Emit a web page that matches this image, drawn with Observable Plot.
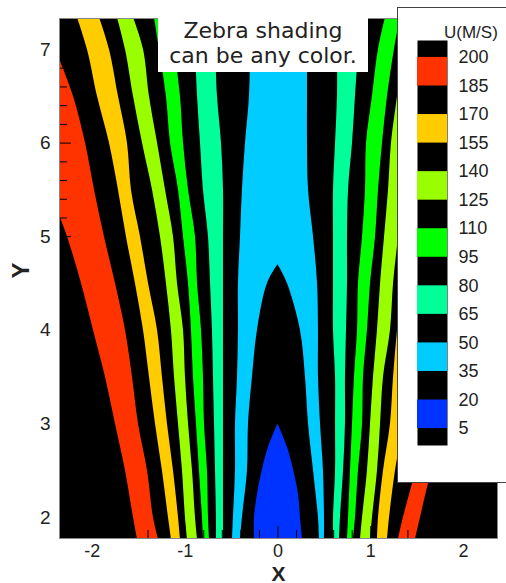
<!DOCTYPE html>
<html>
<head>
<meta charset="utf-8">
<script src="https://cdn.jsdelivr.net/npm/d3@7"></script>
<script src="https://cdn.jsdelivr.net/npm/@observablehq/plot@0.6"></script>
<style>
  html, body { margin: 0; padding: 0; background: #fff; }
  #wrap { position: relative; width: 506px; height: 583px; overflow: hidden; background: #fff; }
  #chart { position: absolute; left: 0; top: 0; }
  #note { position: absolute; left: 158px; top: 8px; width: 210px; height: 64px; background: #fff;
          font-family: "DejaVu Sans", sans-serif; font-size: 22px; line-height: 25px; color: #222;
          text-align: center; padding-top: 10px; box-sizing: border-box; white-space: nowrap; }
  #legend { position: absolute; left: 397px; top: 7px; width: 130px; height: 474px;
            border: 1px solid #444; background: #fff; }
  #legend .title { position: absolute; left: 46px; top: 16px; font-family: "Liberation Sans", Arial, sans-serif;
            font-size: 17px; line-height: 17px; color: #222; white-space: nowrap; }
  #legend .bar { position: absolute; left: 0; top: 0; }
</style>
</head>
<body>
<div id="wrap">
  <div id="chart"></div>
  <div id="note">Zebra shading<br>can be any color.</div>
  <div id="legend"><div class="bar" id="legendbar"></div><span class="title">U(M/S)</span></div>
</div>
<script>
// ---- contour levels and zebra band colours (legend) ----
const levels = [5, 20, 35, 50, 65, 80, 95, 110, 125, 140, 155, 170, 185, 200];
const bandColors = ["#0033ff", "#00ccff", "#00ff99", "#00ff00", "#99ff00", "#ffcc00", "#ff3300"];

// ---- axis ticks ----
const xMajor = [-2, -1, 0, 1, 2];
const yMajor = [2, 3, 4, 5, 6, 7];
const xMinor = [-2.2, -1.8, -1.6, -1.4, -1.2, -0.8, -0.6, -0.4, -0.2, 0.2, 0.4, 0.6, 0.8, 1.2, 1.4, 1.6, 1.8, 2.2];
const yMinor = [1.8, 2.2, 2.4, 2.6, 2.8, 3.2, 3.4, 3.6, 3.8, 4.2, 4.4, 4.6, 4.8, 5.2, 5.4, 5.6, 5.8, 6.2, 6.4, 6.6, 6.8, 7.2];

// ---- coloured band edges: [Y, X left edge, X right edge] ----
// 185-200 (red), left side
const redLeft = [[1.77,-1.514,-1.288],[2,-1.557,-1.342],[2.5,-1.643,-1.406],[3,-1.751,-1.503],[3.5,-1.859,-1.568],
  [4,-1.988,-1.643],[4.5,-2.117,-1.751],[5,-2.268,-1.870],[5.5,-2.45,-1.977],[6,-2.55,-2.074],[6.5,-2.65,-2.204],[6.9,-2.75,-2.355]];
// 155-170 (orange), left side
const orangeLeft = [[1.77,-1.148,-1.051],[2,-1.180,-1.072],[2.5,-1.245,-1.126],[3,-1.320,-1.191],[3.5,-1.385,-1.245],
  [4,-1.449,-1.298],[4.5,-1.536,-1.395],[5,-1.633,-1.482],[5.5,-1.719,-1.579],[6,-1.816,-1.622],[6.5,-1.945,-1.719],[7,-2.053,-1.816],[7.34,-2.161,-1.923]];
// 125-140 (yellow-green), left side
const ygreenLeft = [[1.77,-0.975,-0.867],[2,-0.997,-0.889],[2.5,-1.029,-0.921],[3,-1.072,-0.964],[3.5,-1.115,-0.997],
  [4,-1.148,-1.018],[4.5,-1.202,-1.083],[5,-1.266,-1.126],[5.5,-1.352,-1.212],[6,-1.460,-1.298],[6.5,-1.557,-1.385],[7,-1.643,-1.449],[7.34,-1.730,-1.557]];
// 95-110 (green), left side
const greenLeft = [[1.77,-0.803,-0.738],[2,-0.814,-0.749],[2.5,-0.846,-0.760],[3,-0.878,-0.792],[3.5,-0.911,-0.803],
  [4,-0.932,-0.824],[4.5,-0.964,-0.867],[5,-1.018,-0.889],[5.5,-1.072,-0.964],[6,-1.158,-1.018],[6.5,-1.202,-1.051],[7,-1.277,-1.115],[7.34,-1.331,-1.180]];
// 65-80 (teal), left side
const tealLeft = [[1.77,-0.663,-0.587],[2,-0.663,-0.587],[2.5,-0.673,-0.587],[3,-0.684,-0.587],[3.5,-0.695,-0.587],
  [4,-0.706,-0.587],[4.5,-0.727,-0.587],[5,-0.749,-0.587],[5.5,-0.803,-0.587],[6,-0.835,-0.609],[6.5,-0.867,-0.652],[7,-0.889,-0.673],[7.34,-0.911,-0.695]];
// 35-50 (cyan), outer edges across the centre
const cyanOuter = [[1.77,-0.490,0.501],[2,-0.480,0.501],[2.5,-0.458,0.490],[3,-0.458,0.458],[3.5,-0.436,0.436],
  [4,-0.426,0.436],[4.5,-0.426,0.426],[5,-0.404,0.383],[5.5,-0.383,0.329],[6,-0.350,0.318],[6.5,-0.307,0.318],[7,-0.296,0.318],[7.34,-0.296,0.318]];
// below 35 (black core) inside the cyan band
const core35 = [[1.77,-0.404,0.447],[2,-0.383,0.436],[2.5,-0.329,0.383],[3,-0.318,0.329],[3.5,-0.275,0.296],
  [4,-0.221,0.242],[4.5,-0.113,0.102],[4.7,0,0]];
// 5-20 (blue) core
const core20 = [[1.77,-0.253,0.264],[2,-0.253,0.242],[2.25,-0.221,0.221],[2.5,-0.17,0.17],[2.75,-0.102,0.102],[3.0,0,0]];
// right side bands
const tealRight = [[1.77,0.598,0.663],[2,0.598,0.673],[2.5,0.620,0.706],[3,0.620,0.727],[3.5,0.620,0.727],
  [4,0.598,0.738],[4.5,0.598,0.749],[5,0.598,0.749],[5.5,0.598,0.760],[6,0.620,0.803],[6.5,0.641,0.835],[7,0.641,0.867],[7.34,0.641,0.867]];
const greenRight = [[1.77,0.749,0.814],[2,0.760,0.835],[2.5,0.781,0.867],[3,0.803,0.911],[3.5,0.824,0.921],
  [4,0.857,0.964],[4.5,0.867,0.997],[5,0.911,1.051],[5.5,0.943,1.083],[6,0.954,1.126],[6.5,1.018,1.180],[7,1.083,1.255],[7.34,1.158,1.320]];
const ygreenRight = [[1.77,0.889,0.997],[2,0.911,1.018],[2.5,0.964,1.072],[3,0.997,1.105],[3.5,1.029,1.137],
  [4,1.072,1.212],[4.5,1.105,1.245],[5,1.148,1.298],[5.5,1.191,1.342],[6,1.223,1.385],[6.5,1.288,1.449],[7,1.352,1.514],[7.34,1.406,1.568]];
const orangeRight = [[1.77,1.072,1.180],[2,1.083,1.202],[2.5,1.137,1.266],[3,1.212,1.352],[3.5,1.245,1.385],
  [4,1.288,1.439],[4.5,1.342,1.503],[5,1.406,1.579],[5.5,1.492,1.686],[6,1.579,1.783],[6.5,1.676,1.891],[7,1.773,1.999],[7.34,1.859,2.085]];
const redRight = [[1.77,1.298,1.482],[2,1.352,1.536],[2.36,1.449,1.622],[2.5,1.482,1.665],[3,1.589,1.805],[3.5,1.697,1.945],
  [4,1.805,2.096],[4.5,1.913,2.257],[5,2.020,2.398],[5.5,2.128,2.56],[6,2.236,2.72],[6.5,2.343,2.88],[7,2.45,3.04],[7.34,2.52,3.15]];

const band = (data, fill) => Plot.areaX(data, {
  y: d => d[0], x1: d => d[1], x2: d => d[2], fill, curve: "catmull-rom", clip: true
});

const chart = Plot.plot({
  width: 506, height: 583,
  marginLeft: 59, marginRight: 9, marginTop: 18, marginBottom: 45,
  x: {domain: [-2.354, 2.365], axis: null},
  y: {domain: [1.776, 7.331], axis: null},
  style: {fontFamily: "'Liberation Sans', Arial, sans-serif", fontSize: "19px", color: "#222", background: "transparent", overflow: "visible"},
  marks: [
    Plot.frame({fill: "black"}),
    band(cyanOuter, bandColors[1]),
    band(core35, "black"),
    band(core20, bandColors[0]),
    band(tealLeft, bandColors[2]), band(tealRight, bandColors[2]),
    band(greenLeft, bandColors[3]), band(greenRight, bandColors[3]),
    band(ygreenLeft, bandColors[4]), band(ygreenRight, bandColors[4]),
    band(orangeLeft, bandColors[5]), band(orangeRight, bandColors[5]),
    band(redLeft, bandColors[6]), band(redRight, bandColors[6]),
    // inward ticks
    Plot.ruleX(xMajor, {x: d => d, stroke: "black", insetTop: 508}),
    Plot.ruleX(xMinor, {x: d => d, stroke: "black", insetTop: 512}),
    Plot.ruleY(yMajor, {y: d => d, stroke: "black", insetRight: 426}),
    Plot.ruleY(yMinor, {y: d => d, stroke: "black", insetRight: 430}),
    Plot.frame({stroke: "#888"}),
    Plot.axisX(xMajor, {tickSize: 0, tickPadding: 6, fontSize: 18, tickFormat: d => String(d), label: null}),
    Plot.axisY(yMajor, {tickSize: 0, tickPadding: 9, tickFormat: d => String(d), label: null}),
    Plot.text(["X"], {text: d => d, frameAnchor: "bottom", dy: 42, lineAnchor: "bottom", fontSize: 21, fontWeight: "bold", fill: "#222"}),
    Plot.text(["Y"], {text: d => d, frameAnchor: "left", dx: -38, rotate: -90, fontSize: 24, fontWeight: "bold", fill: "#222"})
  ]
});
document.getElementById("chart").appendChild(chart);

// ---- legend ----
const legendBands = bandColors.map((c, i) => ({lo: levels[2 * i], hi: levels[2 * i + 1], color: c}));
const legend = Plot.plot({
  width: 108, height: 474,
  marginLeft: 19, marginRight: 59, marginTop: 32, marginBottom: 37,
  x: {domain: ["U"], padding: 0, axis: null},
  y: {domain: [-3.9, 208.9], axis: null},
  style: {fontFamily: "'Liberation Sans', Arial, sans-serif", fontSize: "18px", color: "#222", background: "transparent", overflow: "visible"},
  marks: [
    Plot.frame({fill: "black"}),
    Plot.barY(legendBands, {x: () => "U", y1: d => d.lo, y2: d => d.hi, fill: d => d.color}),
    Plot.axisY(levels, {anchor: "right", tickSize: 0, tickPadding: 11, tickFormat: d => String(d), label: null})
  ]
});
document.getElementById("legendbar").appendChild(legend);
</script>
</body>
</html>
